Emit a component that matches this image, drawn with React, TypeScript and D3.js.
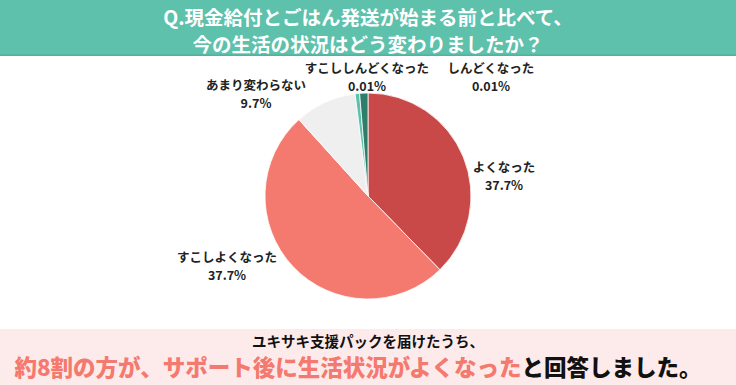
import React from "react";
import * as d3 from "d3";

const categories = ["よくなった", "すこしよくなった", "あまり変わらない", "すこししんどくなった", "しんどくなった"];
const sliceValues = [37.7, 50.6, 9.7, 0.7, 1.3];
const labelTexts = ["37.7%", "37.7%", "9.7%", "0.01%", "0.01%"];
const sliceColors = ["#C84947", "#F47A6F", "#EFEFEF", "#5CC2AC", "#2E7E6B"];
const titleLines = ["Q.現金給付とごはん発送が始まる前と比べて、", "今の生活の状況はどう変わりましたか？"];
const footerLine1 = "ユキサキ支援パックを届けたうち、";
const footerHighlight = "約8割の方が、サポート後に生活状況がよくなった";
const footerRest = "と回答しました。";

// label layout (centre of label block)
const labelPos: [number, number][] = [
  [504, 167],
  [227, 257],
  [256, 85],
  [367, 68],
  [491, 68],
];

const W = 736;
const H = 385;
const cx = 368;
const cy = 196;
const R = 103;

export default function App() {
  const pie = d3.pie<number>().sort(null).value((d) => d)(sliceValues);
  const arc = d3.arc<d3.PieArcDatum<number>>().innerRadius(0).outerRadius(R);
  const font = "'Noto Sans CJK JP', 'Noto Sans', sans-serif";
  return (
    <svg width={W} height={H} style={{ position: "absolute", left: 0, top: 0 }} fontFamily={font}>
      <rect x={0} y={0} width={W} height={H} fill="#fff" />
      <rect x={0} y={0} width={W} height={56} fill="#5DC1AC" />
      <rect x={0} y={54.5} width={W} height={1.5} fill="#4FB39E" />
      {titleLines.map((t, i) => (
        <text key={i} x={cx} y={16 + i * 27.5} textAnchor="middle" dominantBaseline="central" fill="#fff" fontSize={19.5} fontWeight={700}>
          {t}
        </text>
      ))}
      <g transform={`translate(${cx},${cy})`}>
        {pie.map((p, i) => (
          <path key={i} d={arc(p) || ""} fill={sliceColors[i]} stroke="#fff" strokeWidth={0.8} />
        ))}
      </g>
      {categories.map((c, i) => (
        <g key={i} fill="#222" fontWeight={700} fontSize={12.5} textAnchor="middle">
          <text x={labelPos[i][0]} y={labelPos[i][1] - 0.5} dominantBaseline="central">{c}</text>
          <text x={labelPos[i][0]} y={labelPos[i][1] + 17.5} dominantBaseline="central">{labelTexts[i]}</text>
        </g>
      ))}
      <rect x={0} y={329} width={W} height={H - 329} fill="#FDEBEB" />
      <text x={368} y={340.5} textAnchor="middle" dominantBaseline="central" fontSize={14.5} fontWeight={700} fill="#111">
        {footerLine1}
      </text>
      <text x={358} y={365.5} textAnchor="middle" dominantBaseline="central" fontSize={22.5} fontWeight={900}>
        <tspan fill="#F47A6F">{footerHighlight}</tspan>
        <tspan fill="#111">{footerRest}</tspan>
      </text>
    </svg>
  );
}
